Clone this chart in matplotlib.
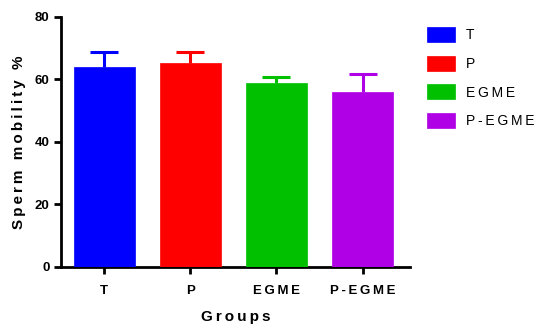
import matplotlib
matplotlib.use('Agg')
from matplotlib import pyplot as plt
from matplotlib.patches import Patch

groups = ['T', 'P', 'EGME', 'P-EGME']
mobility = [64.0, 65.3, 58.8, 55.9]
sem = [4.8, 3.5, 2.0, 5.9]
colors = ['#0000FF', '#FF0000', '#00C000', '#B000E6']

plt.rcParams['font.family'] = ['Liberation Sans', 'DejaVu Sans']


def spaced(s, sep='\u2009'):
    # wide letter spacing like the original
    return sep.join(s)


fig = plt.figure(figsize=(5.38, 3.24), dpi=100)
ax = fig.add_axes([0.113, 0.176, 0.649, 0.772])

x = range(len(groups))
ax.bar(x, mobility, width=0.71, color=colors, edgecolor=colors, linewidth=0.5,
       zorder=3)
for i in x:
    eb = ax.errorbar(i, mobility[i], yerr=[[0], [sem[i]]], color=colors[i],
                     elinewidth=2.2, capsize=10, capthick=2.2, zorder=2)
    # hide the lower cap (sits on the bar top)
    eb[1][0].set_visible(False)

ax.set_xlim(-0.505, 3.55)
ax.set_ylim(0, 80)
ax.set_yticks([0, 20, 40, 60, 80])
ax.set_xticks(list(x))
ax.set_xticklabels([spaced(g) for g in groups], fontsize=9.5, fontweight='bold')
for lab in ax.get_yticklabels():
    lab.set_fontsize(9.5)
    lab.set_fontweight('bold')

ax.spines['top'].set_visible(False)
ax.spines['right'].set_visible(False)
ax.spines['left'].set_linewidth(2)
ax.spines['bottom'].set_linewidth(2)
ax.tick_params(axis='both', direction='out', length=5, width=2, pad=3)
ax.tick_params(axis='x', pad=8)

ax.set_xlabel(spaced('Groups'), fontsize=11, fontweight='bold', labelpad=9)
ax.set_ylabel(spaced('Sperm mobility %'), fontsize=11, fontweight='bold',
              labelpad=6)

handles = [Patch(facecolor=c, edgecolor=c, linewidth=0.5) for c in colors]
fig.legend(handles, [spaced(g) for g in groups], loc='upper left',
           bbox_to_anchor=(0.794, 0.917), frameon=False, fontsize=10,
           borderpad=0, borderaxespad=0,
           handlelength=2.0, handleheight=1.3, labelspacing=0.97,
           handletextpad=0.8)

fig.savefig('out.png', dpi=100)
